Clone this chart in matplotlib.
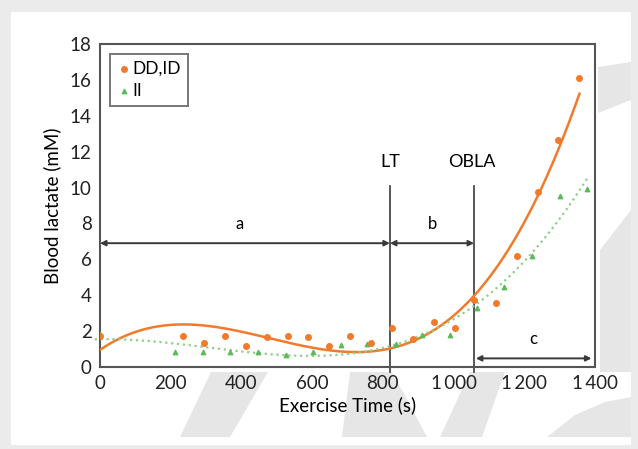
import matplotlib.pyplot as plt
import numpy as np
from matplotlib.patches import Rectangle, Polygon

# orange group (DD,ID)
t_dd = [0, 234, 294, 354, 412, 471, 531, 589, 649, 707, 766, 827, 886, 945,
        1004, 1059, 1119, 1178, 1240, 1296, 1356]
v_dd = [1.75, 1.73, 1.36, 1.75, 1.17, 1.69, 1.75, 1.69, 1.19, 1.75, 1.36, 2.2,
        1.55, 2.48, 2.16, 3.74, 3.59, 6.2, 9.76, 12.66, 16.13]

# green group (II); the first point sits under the orange marker at t=0
t_ii = [0, 212, 292, 368, 446, 525, 603, 681, 756, 836, 912, 990, 1065, 1144,
        1221, 1301, 1376]
v_ii = [1.85, 0.84, 0.84, 0.86, 0.82, 0.69, 0.82, 1.24, 1.27, 1.3, 1.78, 1.79,
        3.31, 4.45, 6.16, 9.55, 9.93]

# thresholds
lt_time = 820
obla_time = 1058

x_ticks = [0, 200, 400, 600, 800, 1000, 1200, 1400]
x_ticklabels = ['0', '200', '400', '600', '800', '1\u2009000', '1\u2009200', '1\u2009400']
y_ticks = [0, 2, 4, 6, 8, 10, 12, 14, 16, 18]

orange = '#f27a2c'
green = '#5dba5a'
dark = '#3a3a3a'

plt.rcParams['font.family'] = ['Lato', 'DejaVu Sans']

fig = plt.figure(figsize=(6.38, 4.49), dpi=100)
fig.patch.set_facecolor('#ebebeb')

# white page with grey watermark strokes
fig.patches.append(Rectangle((11 / 638, 4 / 449), 620 / 638, 433 / 449,
                             transform=fig.transFigure, facecolor='white',
                             edgecolor='none', zorder=0))
wm = '#e6e6e6'
shapes = [
    [(211, 372), (268, 372), (230, 437), (180, 437)],
    [(350, 372), (392, 372), (410, 405), (427, 437), (342, 437)],
    [(470, 372), (505, 372), (482, 437), (440, 437)],
    [(547, 437), (575, 415), (605, 402), (631, 397), (631, 437)],
    [(598, 67), (631, 62), (631, 100), (598, 113)],
    [(600, 250), (631, 210), (631, 372), (600, 372)],
]
for pts in shapes:
    fig.patches.append(Polygon([(x / 638, 1 - y / 449) for x, y in pts],
                               closed=True, transform=fig.transFigure,
                               facecolor=wm, edgecolor='none', zorder=0.5))

ax = fig.add_axes([100 / 638, 1 - 367 / 449, 495 / 638, 323 / 449])
ax.set_facecolor('white')
ax.set_zorder(1)

# trend lines (cubic fits, like the spreadsheet trendlines)
c_dd = np.polyfit(t_dd, v_dd, 3)
c_ii = np.polyfit(t_ii, v_ii, 3)
tt_dd = np.linspace(0, max(t_dd), 300)
tt_ii = np.linspace(-15, 1382, 300)
ax.plot(tt_dd, np.polyval(c_dd, tt_dd), color=orange, lw=1.8, zorder=3)
ax.plot(tt_ii, np.polyval(c_ii, tt_ii), color='#8fcf8a', lw=1.6, ls=':',
        zorder=3, clip_on=False)

ax.scatter(t_ii, v_ii, s=10, color=green, marker='^', zorder=4, label='II')
ax.scatter(t_dd, v_dd, s=16, color=orange, marker='o', zorder=5, label='DD,ID')

# threshold lines
for tx in (lt_time, obla_time):
    ax.plot([tx, tx], [-0.3, 10.1], color=dark, lw=1.2, clip_on=False, zorder=2)
ax.text(lt_time, 11.0, 'LT', ha='center', va='bottom', fontsize=13)
ax.text(obla_time - 5, 11.0, 'OBLA', ha='center', va='bottom', fontsize=13)

# phase arrows
arrow = dict(arrowstyle='<|-|>', color=dark, lw=1.4, mutation_scale=8,
             shrinkA=0, shrinkB=0)
ax.annotate('', xy=(0, 6.9), xytext=(lt_time, 6.9), arrowprops=arrow)
ax.annotate('', xy=(lt_time, 6.9), xytext=(obla_time, 6.9), arrowprops=arrow)
ax.annotate('', xy=(obla_time + 5, 0.48), xytext=(1390, 0.48), arrowprops=arrow)
ax.text(396, 7.5, 'a', ha='center', va='bottom', fontsize=12)
ax.text(939, 7.5, 'b', ha='center', va='bottom', fontsize=12)
ax.text(1225, 1.1, 'c', ha='center', va='bottom', fontsize=12)

ax.set_xlim(0, 1400)
ax.set_ylim(0, 18)
ax.set_xticks(x_ticks)
ax.set_xticklabels(x_ticklabels)
ax.set_yticks(y_ticks)
ax.tick_params(length=0, labelsize=13.5, colors='#222222', pad=6)
for sp in ax.spines.values():
    sp.set_color('#555555')
    sp.set_linewidth(1.5)

ax.set_xlabel('Exercise Time (s)', fontsize=13.5, labelpad=3)
ax.set_ylabel('Blood lactate (mM)', fontsize=13.5, labelpad=6)

handles, labels = ax.get_legend_handles_labels()
leg = ax.legend(handles[::-1], labels[::-1], loc='upper left',
                bbox_to_anchor=(0.02, 0.97), fontsize=12.5,
                frameon=True, fancybox=False, edgecolor='#555555',
                handletextpad=0.1, handlelength=0.8, borderpad=0.4,
                labelspacing=0.35, borderaxespad=0)
leg.get_frame().set_linewidth(1.4)

fig.savefig('out.png', dpi=100, facecolor=fig.get_facecolor())
